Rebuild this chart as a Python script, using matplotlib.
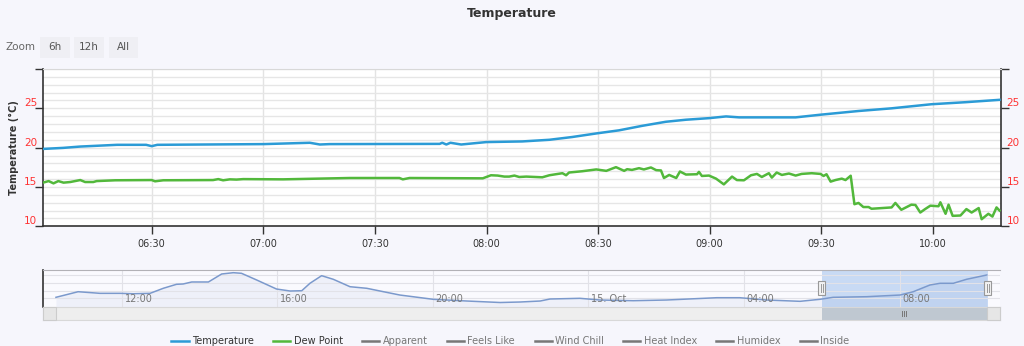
import matplotlib.pyplot as plt
from matplotlib.patches import Rectangle
from matplotlib.transforms import IdentityTransform

# main chart, minutes after 06:00 on 15 Oct
temp_min = [0.8, 6.2, 10.8, 20.7, 28.5, 30.0, 31.5, 60.0, 72.5, 75.2, 77.8, 107.4, 108.1, 109.2,
            110.3, 113.2, 120.0, 129.6, 136.9, 143.0, 149.7, 155.6, 161.8, 168.2, 173.6, 179.8,
            184.4, 187.9, 193.2, 203.1, 209.8, 220.0, 228.9, 239.6, 248.8, 257.9]
temp_val = [19.84, 19.97, 20.14, 20.36, 20.36, 20.19, 20.36, 20.45, 20.62, 20.4, 20.45, 20.48, 20.62, 20.4,
            20.62, 20.4, 20.71, 20.79, 21.0, 21.35, 21.82, 22.2, 22.77, 23.29, 23.55, 23.75,
            23.97, 23.85, 23.85, 23.85, 24.19, 24.66, 25.0, 25.52, 25.78, 26.08]

dew_min = [0.8, 2.3, 3.6, 4.9, 6.3, 8.1, 10.8, 12.1, 14.3, 15.2, 20.2, 30.0, 30.9, 33.1, 46.5, 47.9,
           49.2, 51.0, 52.8, 54.6, 65.3, 83.2, 96.6, 97.5, 99.3, 119.0, 121.2, 123.0, 124.8, 126.1,
           127.5, 128.8, 130.7, 135.0, 136.9, 140.4, 141.4, 142.2, 145.7, 149.5, 152.2, 154.8,
           157.0, 157.8, 159.1, 161.0, 162.3, 164.2, 165.6, 166.9, 167.7, 169.1, 171.0, 172.0,
           173.6, 176.6, 177.1, 177.9, 179.8, 181.7, 183.8, 186.0, 187.3, 189.2, 191.1, 192.7,
           194.0, 195.9, 196.7, 198.0, 199.4, 201.3, 203.1, 204.7, 207.4, 209.8, 210.6, 211.4,
           212.5, 213.8, 215.5, 216.5, 217.9, 218.9, 220.0, 221.3, 222.7, 223.5, 228.9, 229.9,
           231.5, 234.2, 235.3, 236.6, 237.9, 239.3, 241.5, 242.0, 243.4, 244.2, 245.3, 247.4,
           249.0, 250.4, 252.3, 253.1, 254.9, 256.0, 257.1, 257.9]
dew_val = [15.55, 15.75, 15.46, 15.75, 15.55, 15.63, 15.88, 15.63, 15.63, 15.75, 15.85, 15.88, 15.72, 15.85, 15.88, 16.0,
           15.85, 15.97, 15.94, 16.0, 15.97, 16.14, 16.14, 15.97, 16.14, 16.1, 16.49, 16.45, 16.32, 16.32,
           16.45, 16.27, 16.32, 16.23, 16.49, 16.75, 16.49, 16.84, 17.0, 17.23, 17.05, 17.52,
           17.05, 17.26, 17.17, 17.39, 17.23, 17.48, 17.14, 17.1, 16.14, 16.53, 16.14, 16.97,
           16.58, 16.62, 16.92, 16.4, 16.45, 16.06, 15.33, 16.32, 15.88, 15.85, 16.49, 16.66,
           16.27, 16.75, 16.19, 16.84, 16.53, 16.71, 16.45, 16.66, 16.75, 16.66, 16.4, 16.62,
           15.68, 15.88, 16.06, 15.88, 16.43, 12.81, 12.97, 12.45, 12.45, 12.23, 12.4, 12.97,
           12.1, 12.75, 12.71, 11.75, 12.19, 12.62, 12.55, 13.05, 11.59, 12.75, 11.33, 11.37,
           12.19, 11.75, 12.32, 10.9, 11.59, 11.24, 12.4, 12.0]

# navigator, hours after 14 Oct 00:00
nav_hour = [10.31, 10.88, 11.44, 11.96, 12.30, 12.73, 13.07, 13.41, 13.58, 13.80, 14.23, 14.57, 14.87,
            15.08, 15.47, 15.98, 16.33, 16.63, 16.84, 17.14, 17.44, 17.87, 18.30, 18.73, 19.15, 20.01,
            20.87, 21.73, 22.24, 22.76, 23.01, 23.78, 24.30, 25.15, 26.01, 27.30, 27.89, 28.58, 29.44,
            29.95, 30.29, 31.15, 32.01, 32.35, 32.78, 33.04, 33.38, 33.72, 34.24]
nav_temp = [20.29, 21.75, 21.33, 21.33, 21.23, 21.33, 22.64, 23.68, 23.76, 24.28, 24.28, 26.36, 26.7,
            26.54, 24.8, 22.45, 21.93, 22.01, 23.94, 25.92, 24.98, 23.05, 22.64, 21.75, 20.89, 19.77,
            19.33, 18.94, 19.07, 19.33, 19.85, 20.03, 19.59, 19.41, 19.59, 20.19, 20.19, 19.59, 19.25,
            19.77, 20.29, 20.45, 20.89, 21.75, 23.5, 23.94, 23.94, 24.98, 26.1]

x_ticks = [30, 60, 90, 120, 150, 180, 210, 240]
x_labels = ['06:30', '07:00', '07:30', '08:00', '08:30', '09:00', '09:30', '10:00']
y_ticks = [10, 15, 20, 25, 30]
y_labels = ['10', '15', '20', '25', '']
nav_ticks = [12, 16, 20, 24, 28, 32]
nav_labels = ['12:00', '16:00', '20:00', '15. Oct', '04:00', '08:00']
other_series = ['Apparent', 'Feels Like', 'Wind Chill', 'Heat Index', 'Humidex', 'Inside']
zoom_buttons = ['6h', '12h', 'All']

W, H = 1024, 346
plt.rcParams['font.family'] = ['DejaVu Sans']
fig = plt.figure(figsize=(W / 100, H / 100), dpi=100, facecolor='#f6f6fc')


def box(l, t, r, b):
    return [l / W, 1 - b / H, (r - l) / W, (b - t) / H]


def px_rect(l, t, r, b, **kw):
    fig.add_artist(Rectangle((l, H - b), r - l, b - t, transform=IdentityTransform(), **kw))


# main chart
ax = fig.add_axes(box(42.7, 69, 1001, 226.3))
ax.set_facecolor('white')
ax.plot(temp_min, temp_val, color='#2b9bd6', lw=1.8, label='Temperature', zorder=3)
ax.plot(dew_min, dew_val, color='#52b83b', lw=1.8, label='Dew Point', zorder=3)
for name in other_series:
    ax.plot([], [], color='#777777', lw=1.8, label=name)
ax.set_xlim(0.7, 258.3)
ax.set_ylim(10, 30)
ax.set_xticks(x_ticks, x_labels)
ax.set_yticks(y_ticks, y_labels)
ax.set_yticks(range(10, 31), minor=True)
ax.grid(axis='y', which='both', color='#e6e6e6', lw=1)
ax.grid(axis='x', which='major', color='#e3e3e3', lw=1)
ax.tick_params(axis='y', which='minor', length=0)
ax.tick_params(axis='y', which='major', left=True, right=True, labelleft=True, labelright=True,
               length=6, width=1, color='#333333', labelcolor='#ff3333', labelsize=7.5, pad=-2)
ax.tick_params(axis='x', length=6, width=1, color='#333333', labelcolor='#333333', labelsize=7, pad=3)
for t in ax.yaxis.get_major_ticks():
    t.label1.set_va('bottom')
    t.label2.set_va('bottom')
for s in ['left', 'right', 'bottom']:
    ax.spines[s].set_color('#333333')
    ax.spines[s].set_linewidth(1.2)
ax.spines['top'].set_color('#d8d8d8')
fig.text(14 / W, 1 - 148 / H, 'Temperature (°C)', rotation=90, ha='center', va='center',
         fontsize=7, fontweight='bold', color='#333333')

fig.text(0.5, 1 - 14 / H, 'Temperature', ha='center', va='center', fontsize=9,
         fontweight='bold', color='#333333')

# zoom buttons
fig.text(5 / W, 1 - 47 / H, 'Zoom', ha='left', va='center', fontsize=7.5, color='#666666')
for lbl, (l, r) in zip(zoom_buttons, [(40, 70), (74, 104), (109, 138)]):
    px_rect(l, 37, r, 58, facecolor='#efeff4', edgecolor='none')
    fig.text((l + r) / 2 / W, 1 - 47.5 / H, lbl, ha='center', va='center', fontsize=7.5, color='#555555')

# navigator
nav = fig.add_axes(box(43, 270, 1000, 306.7))
nav.set_facecolor('#fafafe')
nav.set_xlim(9.977, 34.58)
nav.set_ylim(17.85, 27.4)
nav.axvspan(30.0, 34.27, color='#c8daf4', lw=0, zorder=0.5)
nav.fill_between(nav_hour, nav_temp, 17.85, color='#6685c2', alpha=0.08, lw=0, zorder=1)
nav.plot(nav_hour, nav_temp, color='#7b99cc', lw=1.1, zorder=2)
nav.set_xticks(nav_ticks)
nav.set_yticks([20, 22, 24, 26])
nav.grid(True, color='#e2e2e8', lw=0.8, zorder=0)
nav.tick_params(length=0, labelbottom=False, labelleft=False)
for t, lbl in zip(nav_ticks, nav_labels):
    nav.annotate(lbl, (t, 0.21), xycoords=nav.get_xaxis_transform(), xytext=(2, 0),
                 textcoords='offset points', ha='left', va='center', fontsize=7, color='#777777')
for s in ['right', 'bottom']:
    nav.spines[s].set_visible(False)
nav.spines['top'].set_color('#b2b1b6')
nav.spines['left'].set_color('#333333')
nav.spines['left'].set_linewidth(1.2)

# navigator handles
for l in (818, 984):
    px_rect(l, 281, l + 7, 295, facecolor='#f2f2f2', edgecolor='#999999', lw=0.8, zorder=5)
    fig.add_artist(plt.Line2D([l + 2.5, l + 2.5], [H - 284, H - 292], transform=IdentityTransform(),
                              color='#999999', lw=0.7, zorder=6))
    fig.add_artist(plt.Line2D([l + 4.5, l + 4.5], [H - 284, H - 292], transform=IdentityTransform(),
                              color='#999999', lw=0.7, zorder=6))

# scrollbar
sb = fig.add_axes(box(43, 306.7, 1000, 320))
sb.set_facecolor('#eeeeee')
sb.set_xlim(9.977, 34.58)
sb.set_ylim(0, 1)
sb.axvspan(30.0, 34.27, color='#bfc8d1', lw=0)
sb.set_xticks([])
sb.set_yticks([])
for s in sb.spines.values():
    s.set_color('#d8d8d8')
    s.set_linewidth(0.8)
px_rect(43, 307, 56, 320, facecolor='#e6e6e6', edgecolor='#cccccc', lw=0.8, zorder=5)
px_rect(987, 307, 1000, 320, facecolor='#e6e6e6', edgecolor='#cccccc', lw=0.8, zorder=5)
fig.text(49.5 / W, 1 - 313.5 / H, '◂', ha='center', va='center', fontsize=5, color='#555555')
fig.text(993.5 / W, 1 - 313.5 / H, '▸', ha='center', va='center', fontsize=5, color='#555555')
for dx in (-2, 0, 2):
    fig.add_artist(plt.Line2D([904 + dx, 904 + dx], [H - 311, H - 316], transform=IdentityTransform(),
                              color='#777777', lw=0.7, zorder=6))

# legend
fig.legend(loc='center', bbox_to_anchor=(0.4985, 1 - 341 / H), ncol=8, frameon=False, fontsize=7,
           handlelength=1.75, handletextpad=0.35, columnspacing=2.0,
           labelcolor=['#333333', '#333333'] + ['#777777'] * len(other_series))

fig.savefig('out.png', dpi=100, facecolor=fig.get_facecolor())
